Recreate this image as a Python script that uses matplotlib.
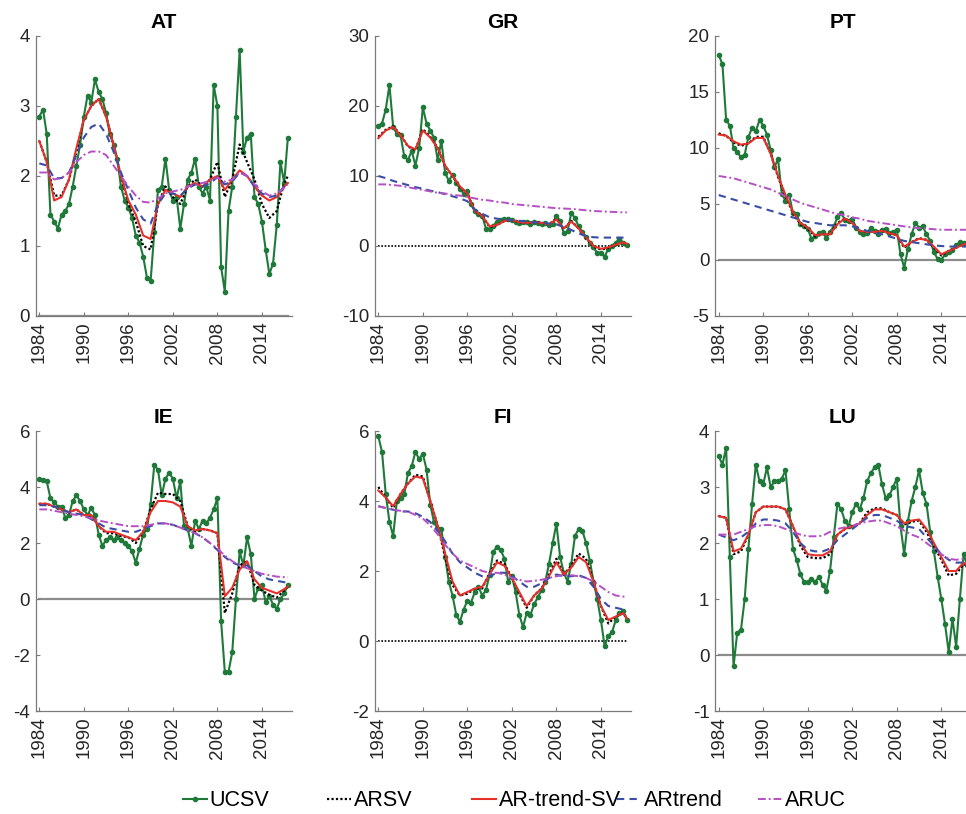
import matplotlib.pyplot as plt
import numpy as np

plt.rcParams['font.family'] = ['Liberation Sans', 'DejaVu Sans']

# time grids: half-yearly for UCSV, yearly for the smoother models
t_half = np.arange(1984, 2018, 0.5)
t_year = np.append(np.arange(1984, 2018), 2017.5)

series_names = ['UCSV', 'ARSV', 'AR-trend-SV', 'ARtrend', 'ARUC']
year_ticks = [1984, 1990, 1996, 2002, 2008, 2014]

# ---- AT ----
at_ucsv = [2.85, 2.95, 2.6, 1.45, 1.35, 1.25, 1.45, 1.5, 1.6, 1.85,
           2.15, 2.45, 2.85, 3.15, 3.05, 3.38, 3.2, 3.1, 2.9, 2.6,
           2.45, 2.25, 1.85, 1.65, 1.55, 1.4, 1.15, 1.05, 0.85, 0.55,
           0.5, 1.2, 1.8, 1.85, 2.25, 1.8, 1.65, 1.7, 1.25, 1.6,
           1.95, 2.05, 2.25, 1.85, 1.75, 1.85, 1.65, 3.3, 3.0, 0.7,
           0.35, 1.5, 1.85, 2.85, 3.8, 2.35, 2.55, 2.6, 1.7, 1.6,
           1.35, 0.95, 0.6, 0.75, 1.3, 2.2, 1.9, 2.55]
at_arsv = [2.5, 2.2, 1.72, 1.72, 1.95, 2.35, 2.8, 3.0, 3.1, 2.85,
           2.45, 2.0, 1.6, 1.35, 1.0, 0.95, 1.6, 1.85, 1.7, 1.6,
           1.85, 1.95, 1.85, 1.95, 2.2, 1.7, 1.95, 2.45, 2.2, 1.95,
           1.6, 1.4, 1.5, 1.9, 2.0]
at_artsv = [2.5, 2.2, 1.65, 1.7, 1.95, 2.4, 2.8, 3.0, 3.1, 2.85,
            2.45, 2.0, 1.65, 1.45, 1.15, 1.1, 1.6, 1.8, 1.75, 1.7,
            1.85, 1.9, 1.85, 1.95, 2.0, 1.8, 1.95, 2.08, 2.0, 1.85,
            1.72, 1.65, 1.7, 1.85, 1.9]
at_artrend = [2.18, 2.15, 1.97, 1.97, 2.05, 2.3, 2.55, 2.7, 2.75, 2.6,
              2.35, 2.05, 1.8, 1.55, 1.38, 1.32, 1.6, 1.75, 1.75, 1.72,
              1.82, 1.88, 1.85, 1.9, 1.98, 1.88, 1.92, 2.05, 2.0, 1.85,
              1.75, 1.7, 1.72, 1.85, 1.9]
at_aruc = [2.05, 2.05, 1.95, 1.97, 2.05, 2.2, 2.3, 2.35, 2.35, 2.3,
           2.15, 2.0, 1.85, 1.72, 1.63, 1.62, 1.68, 1.75, 1.78, 1.8,
           1.85, 1.88, 1.9, 1.93, 1.98, 1.92, 1.95, 2.05, 2.0, 1.88,
           1.78, 1.72, 1.75, 1.83, 1.88]

# ---- GR ----
gr_ucsv = [17.2, 17.5, 19.5, 23.0, 17.0, 16.0, 15.8, 12.8, 12.3, 13.6,
           11.5, 14.0, 19.8, 17.5, 16.5, 15.5, 12.3, 15.0, 10.5, 9.3,
           10.2, 9.0, 8.2, 7.5, 7.9, 6.0, 5.0, 4.6, 4.3, 2.5,
           2.4, 2.9, 3.5, 3.7, 3.8, 3.8, 3.7, 3.5, 3.3, 3.4,
           3.4, 3.2, 3.5, 3.3, 3.2, 3.3, 3.0, 3.2, 4.3, 3.6,
           1.8, 2.1, 4.7, 4.0, 2.8, 2.0, 1.3, 0.5, -0.2, -1.0,
           -1.0, -1.5, -0.4, 0.0, 0.5, 1.0, 0.5, 0.2]
gr_arsv = [15.6, 16.6, 17.1, 15.9, 14.2, 13.7, 16.7, 15.6, 14.0, 11.4,
           10.0, 8.4, 7.5, 5.0, 4.3, 2.7, 3.0, 3.6, 3.7, 3.4,
           3.3, 3.4, 3.3, 3.1, 3.9, 2.4, 3.6, 2.5, 1.1, -0.1,
           -0.5, -0.3, 0.2, 0.5, 0.3]
gr_artsv = [15.4, 16.5, 17.0, 15.8, 14.3, 13.8, 16.5, 15.5, 14.0, 11.5,
            10.0, 8.5, 7.5, 5.0, 4.3, 2.8, 3.0, 3.6, 3.7, 3.4,
            3.3, 3.4, 3.3, 3.1, 3.8, 2.5, 3.5, 2.5, 1.2, 0.0,
            -0.4, -0.2, 0.2, 0.5, 0.3]
gr_artrend = [10.0, 9.7, 9.3, 9.0, 8.7, 8.4, 8.2, 7.9, 7.7, 7.4,
              7.1, 6.8, 6.4, 5.2, 4.6, 4.1, 3.9, 3.8, 3.7, 3.6,
              3.5, 3.4, 3.3, 3.2, 3.1, 2.7, 2.3, 1.8, 1.4, 1.25,
              1.2, 1.2, 1.2, 1.2, 1.2]
gr_aruc = [8.8, 8.8, 8.7, 8.6, 8.4, 8.2, 8.0, 7.8, 7.6, 7.5,
           7.3, 7.2, 7.0, 6.8, 6.6, 6.5, 6.3, 6.2, 6.0, 5.9,
           5.8, 5.7, 5.6, 5.5, 5.4, 5.35, 5.3, 5.2, 5.1, 5.0,
           4.95, 4.9, 4.85, 4.8, 4.8]

# ---- PT ----
pt_ucsv = [18.3, 17.5, 12.5, 12.0, 10.0, 9.6, 9.2, 9.4, 11.0, 11.8,
           11.5, 12.5, 12.0, 11.2, 9.8, 8.3, 9.0, 5.9, 5.3, 5.8,
           4.2, 4.1, 3.2, 3.0, 2.8, 1.9, 2.1, 2.4, 2.5, 2.0,
           2.5, 3.0, 3.8, 4.2, 3.6, 3.5, 3.7, 2.9, 2.5, 2.3,
           2.4, 2.9, 2.6, 2.3, 2.7, 2.8, 2.4, 2.5, 2.7, 0.5,
           -0.7, 1.0, 2.3, 3.3, 2.9, 3.0, 2.3, 1.7, 0.7, 0.1,
           0.0, 0.5, 0.7, 0.9, 1.3, 1.6, 1.5, 1.5]
pt_arsv = [11.3, 11.1, 10.5, 10.2, 10.4, 11.0, 11.0, 9.5, 7.4, 5.7,
           4.2, 3.2, 2.8, 2.1, 2.3, 2.3, 3.3, 3.7, 3.3, 2.6,
           2.5, 2.5, 2.6, 2.4, 2.2, 1.1, 1.6, 1.95, 1.8, 1.1,
           0.4, 0.8, 1.1, 1.4, 1.5]
pt_artsv = [11.2, 11.1, 10.6, 10.3, 10.4, 10.9, 10.9, 9.5, 7.5, 5.8,
            4.3, 3.3, 2.9, 2.2, 2.3, 2.3, 3.2, 3.7, 3.3, 2.6,
            2.5, 2.5, 2.6, 2.4, 2.2, 1.2, 1.6, 1.9, 1.8, 1.2,
            0.5, 0.8, 1.1, 1.4, 1.5]
pt_artrend = [5.8, 5.6, 5.4, 5.2, 5.0, 4.8, 4.6, 4.4, 4.2, 4.0,
              3.8, 3.6, 3.4, 3.3, 3.2, 3.1, 3.1, 3.1, 3.0, 2.8,
              2.6, 2.4, 2.3, 2.1, 1.9, 1.7, 1.6, 1.5, 1.4, 1.3,
              1.25, 1.2, 1.2, 1.2, 1.2]
pt_aruc = [7.5, 7.4, 7.3, 7.1, 6.9, 6.7, 6.5, 6.3, 6.0, 5.7,
           5.4, 5.1, 4.9, 4.7, 4.5, 4.3, 4.1, 4.0, 3.8, 3.7,
           3.5, 3.4, 3.3, 3.2, 3.1, 3.0, 2.9, 2.85, 2.8, 2.75,
           2.7, 2.7, 2.7, 2.7, 2.7]

# ---- IE ----
ie_ucsv = [4.3, 4.25, 4.2, 3.6, 3.45, 3.3, 3.3, 2.9, 3.0, 3.5,
           3.7, 3.5, 3.2, 3.0, 3.25, 3.0, 2.3, 1.9, 2.1, 2.2,
           2.1, 2.2, 2.1, 2.0, 1.9, 1.7, 1.3, 1.8, 2.3, 2.5,
           3.4, 4.8, 4.6, 3.7, 4.3, 4.5, 4.3, 3.6, 4.2, 2.6,
           2.5, 1.9, 2.8, 2.5, 2.8, 2.7, 2.9, 3.2, 3.6, -0.8,
           -2.6, -2.6, -1.9, 0.0, 1.7, 1.2, 2.2, 1.6, 0.0, 0.4,
           0.5, -0.1, 0.1, -0.2, -0.35, 0.0, 0.2, 0.5]
ie_arsv = [3.4, 3.4, 3.3, 3.2, 3.1, 3.2, 3.0, 3.0, 2.6, 2.35,
           2.35, 2.25, 2.2, 2.0, 2.4, 3.2, 3.8, 3.75, 3.75, 3.5,
           2.6, 2.4, 2.5, 2.45, 2.35, -0.5, 0.2, 1.2, 1.35, 0.5,
           0.3, 0.15, 0.05, 0.3, 0.45]
ie_artsv = [3.4, 3.4, 3.3, 3.2, 3.1, 3.2, 3.0, 3.0, 2.6, 2.4,
            2.4, 2.3, 2.2, 2.1, 2.4, 3.1, 3.5, 3.5, 3.45, 3.3,
            2.6, 2.45, 2.5, 2.45, 2.35, 0.1, 0.4, 1.05, 1.35, 0.7,
            0.4, 0.3, 0.2, 0.35, 0.45]
ie_artrend = [3.35, 3.35, 3.3, 3.2, 3.1, 3.05, 3.0, 2.85, 2.7, 2.55,
              2.5, 2.45, 2.4, 2.4, 2.5, 2.6, 2.7, 2.7, 2.65, 2.55,
              2.45, 2.35, 2.2, 2.0, 1.75, 1.5, 1.3, 1.2, 1.2, 1.0,
              0.8, 0.7, 0.65, 0.6, 0.6]
ie_aruc = [3.2, 3.2, 3.15, 3.1, 3.05, 3.0, 2.95, 2.88, 2.8, 2.75,
           2.7, 2.65, 2.6, 2.6, 2.6, 2.65, 2.7, 2.7, 2.65, 2.55,
           2.45, 2.35, 2.2, 2.0, 1.8, 1.55, 1.35, 1.2, 1.1, 1.0,
           0.9, 0.85, 0.8, 0.78, 0.77]

# ---- FI ----
fi_ucsv = [5.85, 5.4, 4.2, 3.4, 3.0, 4.0, 4.1, 4.2, 4.8, 5.0,
           5.4, 5.2, 5.35, 4.9, 3.9, 3.4, 3.2, 3.2, 2.4, 1.7,
           1.3, 0.75, 0.55, 0.9, 1.15, 1.1, 1.4, 1.55, 1.3, 1.45,
           1.9, 2.55, 2.7, 2.6, 2.35, 1.7, 1.85, 1.4, 0.75, 0.4,
           0.8, 0.75, 1.05, 1.25, 1.45, 1.7, 2.2, 2.8, 3.35, 2.4,
           1.95, 1.7, 2.2, 3.0, 3.2, 3.15, 2.8, 2.3, 1.7, 1.2,
           0.6, -0.15, 0.15, 0.25, 0.6, 0.8, 0.85, 0.6]
fi_arsv = [4.4, 4.1, 3.8, 4.2, 4.5, 4.75, 4.7, 4.0, 3.3, 2.4,
           1.6, 1.3, 1.35, 1.5, 1.5, 1.95, 2.3, 2.2, 1.8, 1.35,
           0.95, 1.3, 1.5, 1.9, 2.35, 1.9, 2.15, 2.5, 2.35, 1.7,
           1.0, 0.5, 0.7, 0.8, 0.65]
fi_artsv = [4.3, 4.1, 3.85, 4.2, 4.5, 4.7, 4.65, 4.0, 3.3, 2.5,
            1.7, 1.3, 1.4, 1.5, 1.55, 1.9, 2.25, 2.15, 1.8, 1.4,
            1.0, 1.3, 1.5, 1.85, 2.25, 1.9, 2.1, 2.4, 2.25, 1.7,
            1.0, 0.6, 0.7, 0.8, 0.65]
fi_artrend = [3.85, 3.8, 3.75, 3.7, 3.7, 3.65, 3.55, 3.4, 3.15, 2.85,
              2.5, 2.25, 2.1, 1.95, 1.85, 1.85, 1.95, 1.95, 1.85, 1.7,
              1.55, 1.55, 1.65, 1.8, 1.9, 1.85, 1.85, 1.88, 1.8, 1.55,
              1.2, 1.0, 0.95, 0.9, 0.9]
fi_aruc = [3.85, 3.8, 3.75, 3.72, 3.7, 3.6, 3.5, 3.3, 3.05, 2.75,
           2.5, 2.3, 2.2, 2.1, 2.0, 1.95, 1.95, 1.9, 1.8, 1.75,
           1.7, 1.72, 1.75, 1.8, 1.85, 1.88, 1.88, 1.85, 1.8, 1.7,
           1.55, 1.4, 1.3, 1.27, 1.25]

# ---- LU ----
lu_ucsv = [3.55, 3.4, 3.7, 1.75, -0.2, 0.4, 0.45, 1.0, 1.9, 2.7,
           3.4, 3.1, 3.05, 3.35, 3.0, 3.1, 3.1, 3.15, 3.3, 2.6,
           1.9, 1.7, 1.45, 1.3, 1.3, 1.35, 1.3, 1.4, 1.25, 1.15,
           1.5, 2.1, 2.7, 2.6, 2.4, 2.3, 2.55, 2.7, 2.6, 2.8,
           3.1, 3.25, 3.35, 3.4, 3.05, 2.8, 2.85, 3.0, 3.15, 2.3,
           1.8, 2.4, 2.75, 3.0, 3.3, 2.9, 2.7, 2.2, 1.85, 1.4,
           1.0, 0.55, 0.05, 0.65, 0.15, 1.0, 1.8, 1.6]
lu_arsv = [2.48, 2.45, 1.8, 1.85, 2.15, 2.55, 2.65, 2.65, 2.65, 2.6,
           2.3, 1.95, 1.75, 1.73, 1.73, 1.8, 2.15, 2.25, 2.3, 2.35,
           2.55, 2.62, 2.62, 2.55, 2.5, 2.33, 2.38, 2.4, 2.2, 1.95,
           1.7, 1.42, 1.45, 1.62, 1.6]
lu_artsv = [2.48, 2.45, 1.85, 1.9, 2.15, 2.55, 2.65, 2.65, 2.65, 2.6,
            2.3, 2.0, 1.8, 1.78, 1.78, 1.85, 2.15, 2.25, 2.3, 2.35,
            2.5, 2.6, 2.6, 2.55, 2.5, 2.35, 2.4, 2.42, 2.25, 2.0,
            1.75, 1.5, 1.5, 1.65, 1.6]
lu_artrend = [2.15, 2.1, 2.05, 2.1, 2.2, 2.35, 2.42, 2.42, 2.4, 2.35,
              2.2, 2.0, 1.88, 1.85, 1.85, 1.9, 2.05, 2.15, 2.25, 2.35,
              2.45, 2.5, 2.5, 2.45, 2.4, 2.3, 2.28, 2.25, 2.1, 1.95,
              1.8, 1.7, 1.65, 1.65, 1.65]
lu_aruc = [2.15, 2.15, 2.15, 2.2, 2.25, 2.3, 2.32, 2.32, 2.3, 2.25,
           2.2, 2.15, 2.12, 2.12, 2.13, 2.2, 2.25, 2.28, 2.3, 2.35,
           2.38, 2.4, 2.4, 2.35, 2.3, 2.22, 2.15, 2.1, 2.0, 1.9,
           1.8, 1.72, 1.7, 1.72, 1.72]

# panel setup: title, data, y-limits, y-ticks, zero-line style
panels = [
    ('AT', at_ucsv, at_arsv, at_artsv, at_artrend, at_aruc, (0, 4), [0, 1, 2, 3, 4], 'gray'),
    ('GR', gr_ucsv, gr_arsv, gr_artsv, gr_artrend, gr_aruc, (-10, 30), [-10, 0, 10, 20, 30], 'dot'),
    ('PT', pt_ucsv, pt_arsv, pt_artsv, pt_artrend, pt_aruc, (-5, 20), [-5, 0, 5, 10, 15, 20], 'gray'),
    ('IE', ie_ucsv, ie_arsv, ie_artsv, ie_artrend, ie_aruc, (-4, 6), [-4, -2, 0, 2, 4, 6], 'gray'),
    ('FI', fi_ucsv, fi_arsv, fi_artsv, fi_artrend, fi_aruc, (-2, 6), [-2, 0, 2, 4, 6], 'dot'),
    ('LU', lu_ucsv, lu_arsv, lu_artsv, lu_artrend, lu_aruc, (-1, 4), [-1, 0, 1, 2, 3, 4], 'gray'),
]

c_green = '#1f7a3a'
c_red = '#e5302a'
c_blue = '#3a4ea5'
c_mag = '#b64fc4'
c_axis = '#7a7a7a'

fig = plt.figure(figsize=(9.66, 8.14), dpi=100)

W, H = 966.0, 814.0
lefts = [35.6, 374.6, 715.0]
tops = [36.0, 431.0]
aw, ah = 256.0, 280.0

handles = None
for i, (name, uc, arsv, artsv, artr, aruc, ylim, yticks, zstyle) in enumerate(panels):
    r, c = divmod(i, 3)
    ax = fig.add_axes([lefts[c] / W, 1 - (tops[r] + ah) / H, aw / W, ah / H])

    if zstyle == 'dot':
        ax.plot([t_half[0], t_half[-1]], [0, 0], color='black', ls=(0, (1, 1)), lw=1.2, zorder=1)
    else:
        ax.plot([t_half[0], t_half[-1]], [0, 0], color='#8c8c8c', lw=1.6, zorder=1)

    h1, = ax.plot(t_half, uc, color=c_green, lw=1.5, marker='o', ms=3.0,
                  mec=c_green, mfc=c_green, zorder=2)
    h2, = ax.plot(t_year, arsv, color='black', ls=(0, (1, 1)), lw=1.6, zorder=3)
    h3, = ax.plot(t_year, artsv, color=c_red, lw=1.5, zorder=3)
    h4, = ax.plot(t_year, artr, color=c_blue, ls=(0, (3.5, 2.5)), lw=1.5, zorder=4)
    h5, = ax.plot(t_year, aruc, color=c_mag, ls=(0, (4, 1.5, 1, 1.5)), lw=1.4, zorder=5)
    if handles is None:
        handles = [h1, h2, h3, h4, h5]

    ax.set_xlim(1983.5, 2018)
    ax.set_ylim(*ylim)
    ax.set_xticks(year_ticks)
    ax.set_xticklabels([str(y) for y in year_ticks], rotation=90)
    ax.set_yticks(yticks)
    ax.set_yticklabels([str(v) for v in yticks])
    ax.set_title(name, fontsize=15, fontweight='bold', pad=6)

    for s in ['top', 'right']:
        ax.spines[s].set_visible(False)
    for s in ['left', 'bottom']:
        ax.spines[s].set_color(c_axis)
        ax.spines[s].set_linewidth(0.9)
    ax.tick_params(direction='in', length=3, width=0.8, color=c_axis,
                   labelsize=13.5, labelcolor='#262626', pad=4)

# legend entries sit in equal-width columns, like the original
leg_x = [183, 327, 472, 617, 758]
for h, lab, x in zip(handles, series_names, leg_x):
    fig.legend([h], [lab], loc='center left', bbox_to_anchor=(x / W, 13 / H),
               frameon=False, fontsize=15.5, handlelength=1.12,
               handletextpad=0.12, borderpad=0, borderaxespad=0)

fig.savefig('out.png', dpi=100)
